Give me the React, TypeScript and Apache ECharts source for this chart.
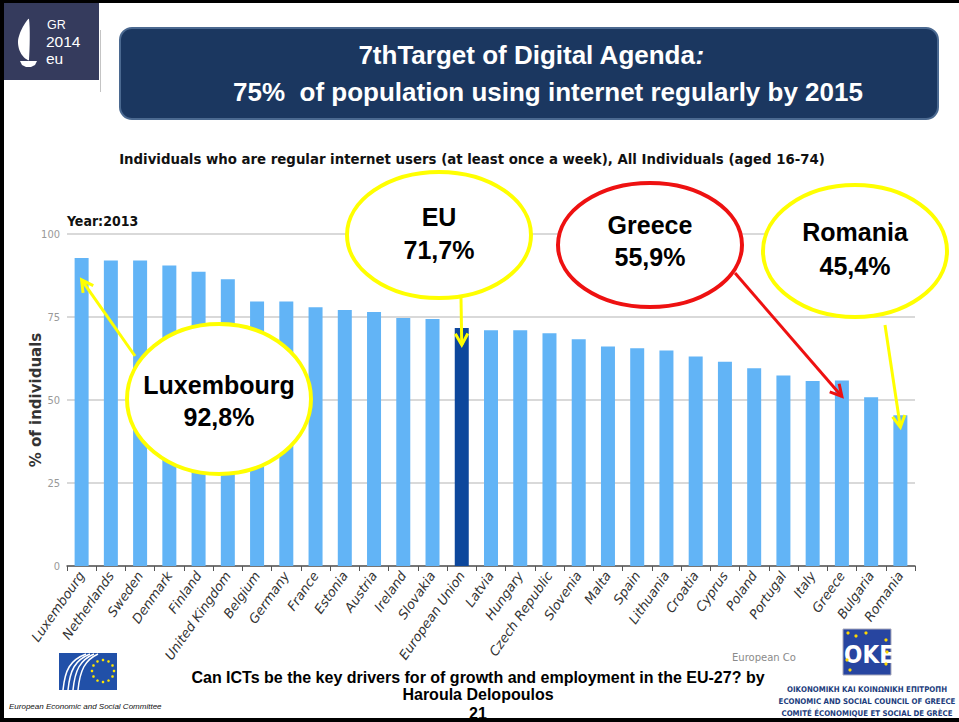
import React, { useEffect, useRef } from 'react';
import * as echarts from 'echarts';

const categories = ['Luxembourg', 'Netherlands', 'Sweden', 'Denmark', 'Finland', 'United Kingdom', 'Belgium', 'Germany', 'France', 'Estonia', 'Austria', 'Ireland', 'Slovakia', 'European Union', 'Latvia', 'Hungary', 'Czech Republic', 'Slovenia', 'Malta', 'Spain', 'Lithuania', 'Croatia', 'Cyprus', 'Poland', 'Portugal', 'Italy', 'Greece', 'Bulgaria', 'Romania'];
const values = [92.8, 92.0, 92.0, 90.5, 88.6, 86.4, 79.7, 79.7, 77.9, 77.1, 76.5, 74.7, 74.4, 71.7, 71.0, 71.0, 70.1, 68.3, 66.1, 65.6, 64.9, 63.1, 61.5, 59.6, 57.4, 55.7, 55.9, 50.8, 45.4];
const highlighted = 'European Union';

const titleLine1 = '7thTarget of Digital Agenda';
const titleLine2 = '75%  of population using internet regularly by 2015';
const subtitle = 'Individuals who are regular internet users (at least once a week), All Individuals (aged 16-74)';
const yearLabel = 'Year:2013';
const yAxisName = '% of individuals';

const calloutNames = ['Luxembourg', 'European Union', 'Greece', 'Romania'];
const calloutTitles = ['Luxembourg', 'EU', 'Greece', 'Romania'];
const calloutValues = ['92,8%', '71,7%', '55,9%', '45,4%'];

const footerLines = ['Can ICTs be the key drivers for of growth and employment in the EU-27? by', 'Haroula Delopoulos', '21'];
const councilLines = ['ΟΙΚΟΝΟΜΙΚΗ ΚΑΙ ΚΟΙΝΩΝΙΚΗ ΕΠΙΤΡΟΠΗ', 'ECONOMIC AND SOCIAL COUNCIL OF GREECE', 'COMITÉ ÉCONOMIQUE ET SOCIAL DE GRÈCE'];
const logoLines = ['GR', '2014', 'eu'];

const BAR = '#62b4f6';
const BAR_DARK = '#0d479c';
const ARIAL = '"Liberation Sans", Arial, sans-serif';
const COND = '"DejaVu Sans Condensed", "DejaVu Sans", sans-serif';

// layout of the callouts (slide annotations)
const calloutLayout = [
  { cx: 219, cy: 399, rx: 92, ry: 75, color: '#ffff00', from: [135, 356], drop: 22, t1: 385, t2: 417 },
  { cx: 439, cy: 235, rx: 92, ry: 63, color: '#ffff00', from: [461, 298], drop: 17, t1: 217, t2: 250 },
  { cx: 650, cy: 245, rx: 92, ry: 62, color: '#ee1111', from: [735, 273], drop: 16, t1: 225, t2: 257 },
  { cx: 855, cy: 251, rx: 92, ry: 66, color: '#ffff00', from: [885, 325], drop: 12, t1: 232, t2: 266 },
];

export default function App() {
  const ref = useRef<HTMLDivElement>(null);
  useEffect(() => {
    document.body.style.margin = '0';
    const chart = echarts.init(ref.current!, null, { renderer: 'svg' });
    chart.setOption({
      animation: false,
      backgroundColor: '#ffffff',
      grid: { left: 67, top: 234, width: 848, height: 332, containLabel: false },
      xAxis: {
        type: 'category',
        data: categories,
        boundaryGap: true,
        axisLine: { lineStyle: { color: '#555', width: 1.5 } },
        axisTick: { show: true, length: 5, lineStyle: { color: '#555' } },
        axisLabel: {
          interval: 0, rotate: 55, margin: 7, color: '#333',
          fontStyle: 'italic', fontSize: 13, fontFamily: '"DejaVu Sans", sans-serif',
        },
      },
      yAxis: {
        type: 'value', min: 0, max: 100, interval: 25,
        name: yAxisName, nameLocation: 'middle', nameGap: 24, nameRotate: 90,
        nameMoveOverlap: false,
        nameTextStyle: { fontWeight: 'bold', fontSize: 15, color: '#333', fontFamily: '"DejaVu Sans", sans-serif' },
        axisLine: { show: false }, axisTick: { show: false },
        axisLabel: { color: '#999', fontSize: 11, margin: 7, fontFamily: COND },
        splitLine: { lineStyle: { color: '#cdcdcd', width: 1.5 } },
      },
      series: [{
        type: 'bar',
        barWidth: 14,
        data: values.map((v, i) => categories[i] === highlighted
          ? { value: v, itemStyle: { color: BAR_DARK } } : v),
        itemStyle: { color: BAR },
      }],
    });

    const tip = (name: string, drop: number) => {
      const i = categories.indexOf(name);
      const p = chart.convertToPixel({ gridIndex: 0 }, [i, values[i]]) as number[];
      return [p[0], p[1] + drop];
    };
    const arrow = (from: number[], to: number[], color: string, z: number) => {
      const ang = Math.atan2(to[1] - from[1], to[0] - from[0]);
      const L = 13, a = 0.5;
      const p1 = [to[0] - L * Math.cos(ang - a), to[1] - L * Math.sin(ang - a)];
      const p2 = [to[0] - L * Math.cos(ang + a), to[1] - L * Math.sin(ang + a)];
      return [
        { type: 'line', z, shape: { x1: from[0], y1: from[1], x2: to[0], y2: to[1] }, style: { stroke: color, lineWidth: 3 } },
        { type: 'polyline', z, shape: { points: [p1, to, p2] }, style: { stroke: color, lineWidth: 3, fill: null } },
      ];
    };
    const txt = (text: string, x: number, y: number, size: number, opts: any = {}) => ({
      type: 'text', z: opts.z ?? 50,
      style: {
        text, x, y, align: opts.align ?? 'center', verticalAlign: 'middle',
        fill: opts.fill ?? '#000', fontSize: size, fontWeight: opts.weight ?? 'bold',
        fontStyle: opts.style ?? 'normal', fontFamily: opts.family ?? ARIAL,
      },
    });

    const els: any[] = [];
    // slide frame
    els.push({ type: 'rect', z: 200, shape: { x: 0, y: 0, width: 959, height: 3 }, style: { fill: '#000' } });
    els.push({ type: 'rect', z: 200, shape: { x: 0, y: 0, width: 4, height: 722 }, style: { fill: '#000' } });
    els.push({ type: 'rect', z: 200, shape: { x: 0, y: 718, width: 959, height: 4 }, style: { fill: '#000' } });
    // GR2014 logo
    els.push({ type: 'rect', z: 60, shape: { x: 4, y: 3, width: 95, height: 77 }, style: { fill: '#353b5d' } });
    els.push({ type: 'line', z: 60, shape: { x1: 100.5, y1: 30, x2: 100.5, y2: 92 }, style: { stroke: '#c4c4c4', lineWidth: 1 } });
    els.push({ type: 'polygon', z: 61, shape: { points: [[29, 19], [24, 25], [20, 33], [18, 41], [19, 49], [22, 55], [26, 59], [29, 60]], smooth: 0.3 }, style: { fill: '#fff' } });
    els.push({ type: 'polygon', z: 61, shape: { points: [[20, 61], [37, 61], [35, 65], [31, 67], [26, 67], [22, 65]] }, style: { fill: '#fff' } });
    els.push(txt(logoLines[0], 47, 24.5, 12.5, { align: 'left', fill: '#fff', weight: 'normal', z: 61 }));
    els.push(txt(logoLines[1], 46, 41, 15.5, { align: 'left', fill: '#fff', weight: 'normal', z: 61 }));
    els.push(txt(logoLines[2], 46, 58, 15.5, { align: 'left', fill: '#fff', weight: 'normal', z: 61 }));
    // title box
    els.push({ type: 'rect', z: 60, shape: { x: 120, y: 28, width: 818, height: 91, r: 12 }, style: { fill: '#1b3760', stroke: '#4b6990', lineWidth: 2 } });
    els.push({
      type: 'text', z: 61,
      style: {
        text: '{a|' + titleLine1 + '}{b|:}', x: 531, y: 55, align: 'center', verticalAlign: 'middle',
        rich: {
          a: { fill: '#fff', fontSize: 26, fontWeight: 'bold', fontFamily: ARIAL },
          b: { fill: '#fff', fontSize: 26, fontWeight: 'bold', fontStyle: 'italic', fontFamily: ARIAL },
        },
      },
    });
    els.push(txt(titleLine2, 548, 92, 26, { fill: '#fff', z: 61 }));
    // subtitle and year
    els.push(txt(subtitle, 472, 158, 14.8, { fill: '#111', family: COND }));
    els.push(txt(yearLabel, 67, 221, 14, { align: 'left', fill: '#111', family: COND }));

    // callouts
    calloutNames.forEach((name, k) => {
      const L = calloutLayout[k];
      const to = tip(name, L.drop);
      els.push({ type: 'ellipse', z: 80, shape: { cx: L.cx, cy: L.cy, rx: L.rx, ry: L.ry }, style: { fill: '#fff', stroke: L.color, lineWidth: 4 } });
      els.push(...arrow(L.from, to, L.color, 81));
      els.push(txt(calloutTitles[k], L.cx, L.t1, 25, { z: 82 }));
      els.push(txt(calloutValues[k], L.cx, L.t2, 25, { z: 82 }));
    });

    // footer
    els.push(txt(footerLines[0], 478, 677, 16));
    els.push(txt(footerLines[1], 478, 694, 16));
    els.push(txt(footerLines[2], 478, 713, 16));
    els.push(txt('European Co', 732, 657, 10, { align: 'left', fill: '#8a8a8a', weight: 'normal', family: '"DejaVu Sans", sans-serif' }));

    // EESC logo
    els.push({ type: 'rect', z: 60, shape: { x: 59, y: 653, width: 58, height: 37 }, style: { fill: '#2150a8' } });
    for (let i = 0; i < 4; i++) {
      els.push({ type: 'bezierCurve', z: 61, shape: { x1: 63 + i * 5, y1: 690, cpx1: 65 + i * 5, cpy1: 670, cpx2: 70 + i * 5, cpy2: 660, x2: 86 + i * 4, y2: 654 }, style: { stroke: '#fff', lineWidth: 1.5, fill: null } });
    }
    for (let s = 0; s < 12; s++) {
      const a = (s / 12) * Math.PI * 2;
      els.push({ type: 'circle', z: 61, shape: { cx: 103 + 11 * Math.cos(a), cy: 671 + 11 * Math.sin(a), r: 1.3 }, style: { fill: '#ffe600' } });
    }
    els.push(txt('European Economic and Social Committee', 9, 706, 8, { align: 'left', weight: 'normal', style: 'italic', fill: '#111' }));

    // Economic and Social Council of Greece logo
    els.push({ type: 'rect', z: 60, shape: { x: 843, y: 629, width: 48, height: 46 }, style: { fill: '#2745a0', stroke: '#aab', lineWidth: 1 } });
    els.push(txt('ΟΚΕ', 869, 655, 24, { fill: '#fff', family: COND, z: 61 }));
    [[848, 633], [856, 636], [866, 633], [886, 640], [887, 652], [886, 664], [850, 670], [847, 660]].forEach(p => {
      els.push({ type: 'circle', z: 62, shape: { cx: p[0], cy: p[1], r: 1.6 }, style: { fill: '#ffd800' } });
    });
    councilLines.forEach((l, i) => {
      els.push(txt(l, 867, 689 + i * 12, 7.8, { fill: '#1c3c7c', family: COND }));
    });

    chart.setOption({ graphic: els });
    return () => chart.dispose();
  }, []);
  return <div ref={ref} style={{ position: 'absolute', left: 0, top: 0, width: 959, height: 722 }} />;
}
